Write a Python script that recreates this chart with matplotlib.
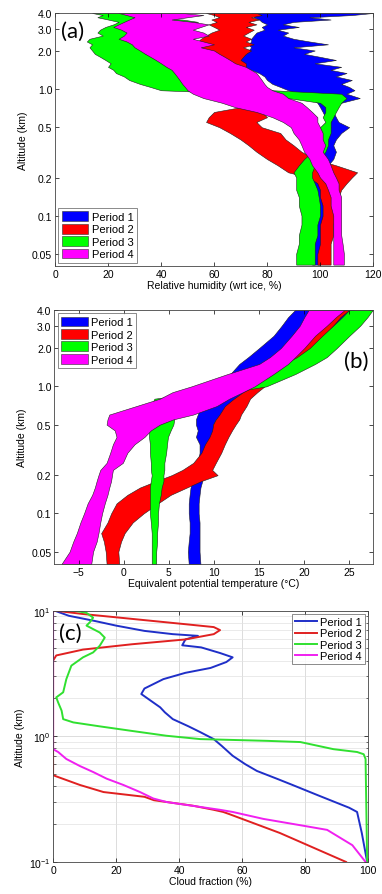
import matplotlib

matplotlib.use("Agg")

import matplotlib.pyplot as plt
import numpy as np
from matplotlib.patches import Patch
from matplotlib.ticker import FixedLocator, NullLocator, LogLocator

plt.rcParams["font.family"] = ["Liberation Sans", "DejaVu Sans"]
plt.rcParams["font.size"] = 7.5

periods = ["Period 1", "Period 2", "Period 3", "Period 4"]
fill_colors = ["#0000ff", "#ff0000", "#00ff00", "#ff00ff"]
line_colors = ["#1f2fc8", "#e02020", "#30e030", "#f020f0"]

# ---- panel (a): relative humidity wrt ice (%), band edges vs altitude (km)
alt_a = [4.0, 3.85, 3.7, 3.55, 3.4, 3.25, 3.1, 2.95, 2.8, 2.65, 2.5, 2.38, 2.26,
         2.14, 2.02, 1.9, 1.8, 1.7, 1.6, 1.5, 1.42, 1.34, 1.26, 1.18, 1.1, 1.04,
         0.98, 0.92, 0.85, 0.78, 0.72, 0.66, 0.6, 0.55, 0.5, 0.45, 0.4, 0.36, 0.32,
         0.28, 0.25, 0.22, 0.2, 0.18, 0.16, 0.14, 0.12, 0.1, 0.085, 0.07, 0.06,
         0.05, 0.041]
rh_p1_lo = [74, 76, 75, 77, 78, 80, 78, 79, 76, 75, 74, 74, 73, 74, 73, 72, 70, 68,
            66, 70, 74, 77, 79, 80, 82, 85, 88, 92, 96, 99, 100, 101, 102, 103, 104,
            103, 103, 102, 101, 100, 99, 98, 97, 97, 97, 97, 97, 97, 97, 97, 97, 97,
            97]
rh_p1_hi = [120, 112, 96, 104, 90, 86, 92, 84, 88, 86, 90, 96, 103, 90, 98, 94, 100,
            106, 98, 108, 104, 110, 106, 112, 108, 111, 113, 110, 115, 108, 104, 105,
            106, 107, 111, 108, 106, 105, 106, 105, 103, 102, 102, 101, 101, 101,
            101, 101, 101, 101, 101, 101, 100]
rh_p2_lo = [57, 60, 62, 59, 61, 58, 60, 62, 59, 57, 55, 54, 52, 55, 57, 56, 60, 62,
            64, 66, 68, 68, 68, 69, 70, 70, 70, 72, 72, 72, 70, 60, 58, 57, 62, 66,
            70, 73, 76, 80, 84, 88, 96, 99, 100, 100, 101, 101, 100, 100, 100, 99,
            99]
rh_p2_hi = [76, 78, 74, 77, 73, 76, 72, 75, 73, 71, 74, 72, 75, 71, 74, 72, 71, 70,
            72, 72, 73, 74, 75, 76, 76, 77, 78, 80, 82, 84, 84, 78, 80, 76, 78, 85,
            87, 90, 93, 98, 106, 114, 112, 110, 108, 107, 106, 106, 105, 105, 104,
            104, 104]
rh_p3_lo = [14, 18, 16, 20, 24, 22, 19, 17, 16, 18, 13, 12, 14, 13, 14, 15, 17, 19,
            21, 20, 22, 23, 26, 28, 32, 36, 40, 74, 88, 100, 102, 102, 101, 102, 100,
            100, 100, 99, 97, 94, 92, 90, 91, 91, 91, 92, 92, 93, 93, 92, 92, 91, 91]
rh_p3_hi = [32, 45, 30, 48, 54, 38, 32, 28, 34, 30, 26, 38, 30, 36, 40, 34, 38, 46,
            42, 48, 52, 55, 58, 62, 66, 74, 82, 108, 110, 108, 107, 106, 105, 104,
            104, 104, 103, 103, 102, 100, 98, 97, 97, 98, 99, 99.5, 100, 100, 99, 99,
            98, 98, 98]
rh_p4_lo = [24, 27, 30, 28, 26, 24, 22, 25, 27, 26, 24, 27, 29, 30, 32, 34, 36, 38,
            40, 42, 44, 45, 46, 47, 48, 49, 50, 52, 56, 63, 68, 76, 82, 86, 89, 90,
            92, 93, 94, 96, 97, 99, 100, 102, 103, 104, 104, 105, 105, 105, 105, 105,
            105]
rh_p4_hi = [48, 56, 50, 44, 52, 58, 55, 52, 56, 58, 52, 56, 60, 55, 60, 62, 64, 66,
            68, 72, 74, 76, 77, 78, 79, 80, 82, 86, 88, 93, 95, 97, 99, 99, 100, 101,
            101, 102, 101, 103, 104, 105, 106, 107, 107, 108, 108, 108, 108, 108,
            108.5, 109, 109]

# ---- panel (b): equivalent potential temperature (deg C)
alt_b = [4.0, 3.5, 3.0, 2.5, 2.0, 1.7, 1.5, 1.25, 1.0, 0.9, 0.8, 0.7, 0.6, 0.55,
         0.5, 0.45, 0.4, 0.35, 0.3, 0.25, 0.22, 0.2, 0.18, 0.16, 0.14, 0.12, 0.1,
         0.085, 0.07, 0.06, 0.05, 0.04]
th_p1_lo = [19.0, 18.2, 17.5, 16.6, 15.0, 13.8, 12.8, 11.8, 11.0, 10.0, 9.2, 8.6,
            8.2, 8.0, 8.0, 8.2, 8.0, 8.4, 8.4, 8.2, 8.0, 7.9, 7.6, 7.4, 7.3, 7.2,
            7.2, 7.3, 7.3, 7.2, 7.1, 7.2]
th_p1_hi = [25.5, 24.5, 23.5, 21.5, 20.0, 18.6, 17.5, 16.0, 14.5, 13.5, 12.8, 12.4,
            11.0, 10.2, 9.9, 10.3, 10.0, 9.8, 9.4, 9.6, 9.2, 8.9, 8.7, 8.5, 8.4, 8.3,
            8.3, 8.4, 8.4, 8.4, 8.4, 8.5]
th_p2_lo = [23.5, 22.6, 21.8, 21.0, 19.8, 18.8, 17.9, 16.4, 14.4, 13.2, 12.2, 11.2,
            10.6, 10.2, 9.9, 9.8, 9.5, 9.0, 8.6, 7.7, 6.5, 5.3, 3.6, 1.8, 0.4, -0.8,
            -1.4, -1.8, -2.5, -2.2, -2.0, -1.9]
th_p2_hi = [25.0, 24.0, 23.2, 22.2, 20.8, 19.8, 18.9, 17.6, 15.6, 14.8, 14.0, 13.6,
            13.0, 12.8, 12.4, 12.0, 11.6, 11.2, 10.8, 10.2, 9.8, 10.4, 8.6, 7.0, 5.2,
            3.8, 2.2, 1.0, 0.1, -0.3, -0.6, -0.5]
th_p3_lo = [25.0, 24.2, 23.2, 22.0, 20.6, 19.2, 17.8, 16.0, 13.6, 9.0, 3.4, 3.0,
            2.8, 2.7, 2.7, 2.8, 2.8, 2.9, 2.9, 3.0, 3.0, 3.1, 3.0, 2.9, 2.9, 2.9, 2.9,
            3.0, 3.1, 3.1, 3.1, 3.1]
th_p3_hi = [27.6, 27.0, 26.2, 25.0, 23.6, 22.5, 21.2, 19.0, 15.8, 12.0, 6.2, 6.0,
            5.8, 5.6, 5.5, 5.2, 4.9, 4.8, 4.7, 4.5, 4.5, 4.4, 4.4, 4.2, 4.1, 3.9, 3.8,
            3.8, 3.7, 3.7, 3.6, 3.6]
th_p4_lo = [20.5, 20.0, 19.5, 18.6, 17.4, 16.2, 15.0, 11.5, 7.5, 5.4, 4.0, 1.4,
            -1.6, -1.8, -1.9, -1.0, -0.8, -1.2, -1.5, -1.9, -2.6, -2.8, -3.0, -3.2,
            -3.5, -4.0, -4.4, -4.8, -5.2, -5.6, -6.0, -6.9]
th_p4_hi = [24.5, 23.5, 22.5, 21.2, 20.0, 19.0, 18.2, 16.6, 14.5, 13.2, 11.7, 10.3,
            7.7, 5.5, 4.0, 3.0, 2.3, 1.2, 0.4, -0.1, -1.2, -1.3, -1.4, -1.6, -1.8,
            -2.1, -2.4, -2.6, -2.8, -3.0, -3.4, -3.6]

# ---- panel (c): cloud fraction (%) profiles
cf_p1_alt = [10.0, 9.1, 8.3, 7.6, 6.9, 6.5, 6.3, 5.9, 5.3, 5.1, 4.6, 4.25, 3.9, 3.5,
             3.2, 2.85, 2.4, 2.17, 1.92, 1.7, 1.55, 1.37, 1.2, 1.08, 0.95, 0.84,
             0.7, 0.6, 0.53, 0.46, 0.41, 0.34, 0.27, 0.25, 0.17, 0.1]
cf_p1 = [0.5, 5, 13, 20, 29, 38, 46, 42, 41, 47, 53, 57, 55, 50, 42, 35, 29, 28,
         31, 34, 35.5, 38, 43, 46.7, 51, 53.5, 57, 61, 64.7, 71, 76, 84, 94, 96.5,
         98, 99.7]
cf_p2_alt = [10.0, 9.4, 8.6, 7.8, 7.4, 7.0, 6.5, 5.9, 5.4, 4.9, 4.4, 4.0, 0.49,
             0.41, 0.36, 0.33, 0.31, 0.28, 0.26, 0.25, 0.24, 0.17, 0.1]
cf_p2 = [0.5, 9.5, 25, 42, 51, 53, 51, 42, 25, 9.5, 1, 0, 0, 8.5, 16, 29, 32, 44.5,
         51, 54, 56, 72, 93]
cf_p3_alt = [10.1, 9.6, 8.8, 8.1, 7.6, 6.7, 6.1, 5.25, 4.65, 4.25, 3.65, 2.85, 2.24,
             2.04, 1.86, 1.6, 1.37, 1.29, 1.2, 1.1, 1.01, 0.95, 0.92, 0.9, 0.79,
             0.75, 0.72, 0.66, 0.1]
cf_p3 = [5.8, 10.6, 12.7, 11.7, 10.6, 14.8, 16.4, 14.8, 12.7, 9.5, 5.8, 4.2, 3.2, 1,
         1.6, 2.7, 3.2, 6.4, 14.8, 25.4, 36, 46.7, 68, 78.5, 89, 96.5, 98.6, 99.2,
         99.7]
cf_p4_alt = [10.0, 0.79, 0.75, 0.66, 0.58, 0.52, 0.46, 0.41, 0.36, 0.32, 0.3, 0.26,
             0.25, 0.22, 0.196, 0.18, 0.136, 0.1]
cf_p4 = [0, 0, 1.6, 4.2, 8.5, 12.7, 17, 22.3, 27.6, 31.8, 36, 53, 57, 66.8, 78.5,
         87, 95, 99.2]

alt_ticks = [0.05, 0.1, 0.2, 0.5, 1.0, 2.0, 3.0, 4.0]
alt_ticklabels = ["0.05", "0.1", "0.2", "0.5", "1.0", "2.0", "3.0", "4.0"]


def style_axes(ax):
    ax.tick_params(direction="in", top=True, right=True, length=3, width=0.5,
                   labelsize=7.5, pad=2)
    ax.tick_params(which="minor", direction="in", top=True, right=True, length=1.8,
                   width=0.4)
    for sp in ax.spines.values():
        sp.set_linewidth(0.6)
        sp.set_color("#444444")


def band_panel(ax, alt, bands, xlim, xticks):
    for (lo, hi), c in zip(bands, fill_colors):
        ax.fill_betweenx(alt, lo, hi, facecolor=c, edgecolor="#202020",
                         linewidth=0.4)
    ax.set_yscale("log")
    ax.set_ylim(0.04, 4.0)
    ax.set_xlim(*xlim)
    ax.yaxis.set_major_locator(FixedLocator(alt_ticks))
    ax.set_yticklabels(alt_ticklabels)
    ax.yaxis.set_minor_locator(NullLocator())
    ax.set_xticks(xticks)
    ax.set_ylabel("Altitude (km)", labelpad=3)
    style_axes(ax)


def legend_patches(ax, loc):
    handles = [Patch(facecolor=c, edgecolor="#303030", linewidth=0.4, label=p)
               for c, p in zip(fill_colors, periods)]
    leg = ax.legend(handles=handles, loc=loc, fontsize=8, frameon=True,
                    fancybox=False, handlelength=2.4, handleheight=1.0,
                    handletextpad=0.3, labelspacing=0.15, borderpad=0.3,
                    borderaxespad=0.3)
    leg.get_frame().set_edgecolor("#555555")
    leg.get_frame().set_linewidth(0.6)


fig = plt.figure(figsize=(3.82, 8.95), dpi=100)

# (a)
ax_a = fig.add_axes([0.144, 0.7017, 0.8325, 0.2827])
band_panel(ax_a, alt_a,
           [(rh_p1_lo, rh_p1_hi), (rh_p2_lo, rh_p2_hi),
            (rh_p3_lo, rh_p3_hi), (rh_p4_lo, rh_p4_hi)],
           (0, 120), range(0, 121, 20))
ax_a.set_xlabel("Relative humidity (wrt ice, %)", labelpad=1)
legend_patches(ax_a, "lower left")
ax_a.text(0.02, 0.97, "(a)", transform=ax_a.transAxes, fontsize=16,
          family="Lato", va="top", ha="left")

# (b)
ax_b = fig.add_axes([0.142, 0.3687, 0.834, 0.284])
band_panel(ax_b, alt_b,
           [(th_p1_lo, th_p1_hi), (th_p2_lo, th_p2_hi),
            (th_p3_lo, th_p3_hi), (th_p4_lo, th_p4_hi)],
           (-7.7, 27.6), range(-5, 26, 5))
ax_b.set_xlabel("Equivalent potential temperature (\u00b0C)", labelpad=1)
legend_patches(ax_b, "upper left")
ax_b.text(0.985, 0.84, "(b)", transform=ax_b.transAxes, fontsize=16,
          family="Lato", va="top", ha="right")

# (c)
ax_c = fig.add_axes([0.139, 0.0358, 0.8246, 0.2808])
for a, v, c, p in zip([cf_p1_alt, cf_p2_alt, cf_p3_alt, cf_p4_alt],
                      [cf_p1, cf_p2, cf_p3, cf_p4], line_colors, periods):
    ax_c.plot(v, a, color=c, linewidth=1.4, label=p)
ax_c.set_yscale("log")
ax_c.set_ylim(0.1, 10)
ax_c.set_xlim(0, 100)
ax_c.set_xticks(range(0, 101, 20))
ax_c.yaxis.set_major_locator(LogLocator(base=10))
ax_c.yaxis.set_minor_locator(LogLocator(base=10, subs=np.arange(2, 10)))
ax_c.grid(True, which="major", color="#cfcfcf", linewidth=0.5)
ax_c.grid(True, which="minor", axis="y", color="#e2e2e2", linewidth=0.5)
ax_c.set_axisbelow(True)
ax_c.set_xlabel("Cloud fraction (%)", labelpad=1)
ax_c.set_ylabel("Altitude (km)", labelpad=3)
style_axes(ax_c)
leg = ax_c.legend(loc="upper right", fontsize=8, frameon=True, fancybox=False,
                  handlelength=2.0, handletextpad=0.2, labelspacing=0.1,
                  borderpad=0.3, borderaxespad=0.3)
leg.get_frame().set_edgecolor("#555555")
leg.get_frame().set_linewidth(0.6)
ax_c.text(0.02, 0.95, "(c)", transform=ax_c.transAxes, fontsize=16,
          family="Lato", va="top", ha="left")

fig.savefig("out.png", dpi=100)
